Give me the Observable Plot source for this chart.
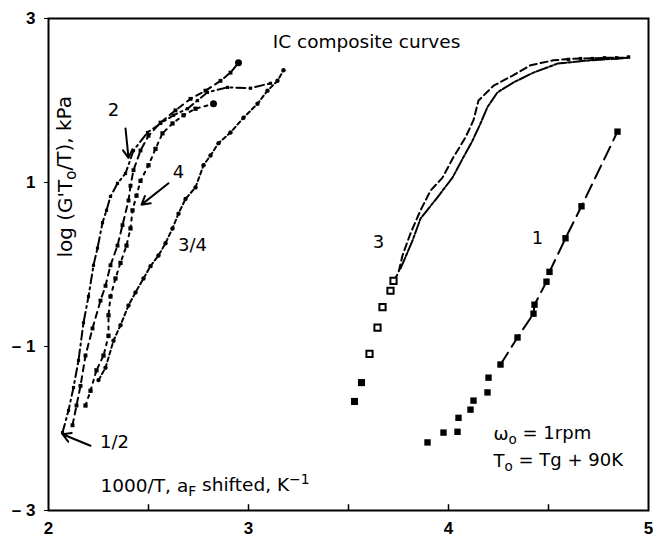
<!DOCTYPE html>
<html><head><meta charset="utf-8">
<script src="https://cdn.jsdelivr.net/npm/d3@7"></script>
<script src="https://cdn.jsdelivr.net/npm/@observablehq/plot@0.6"></script>
<style>body{margin:0;background:#fff}</style>
</head><body><div id="chart"></div>
<script>
const xTicks = [2, 3, 4, 5];
const xMinorTicks = [2.5, 3, 3.5, 4, 4.5];
const yTicks = [3, 1, -1, -3];

// left cluster
const curveHalf = [[2.07,-2.05],[2.10,-1.78],[2.125,-1.50],[2.15,-1.17],[2.175,-0.71],[2.20,-0.39],[2.225,-0.01],[2.245,0.20],[2.27,0.51],[2.29,0.66],[2.31,0.83],[2.345,0.99],[2.385,1.11],[2.425,1.39],[2.495,1.61],[2.56,1.72],[2.625,1.82],[2.695,1.90],[2.745,2.00],[2.795,2.10],[2.895,2.16],[3.01,2.15],[3.11,2.21]];
const curveTwo = [[2.12,-1.96],[2.14,-1.72],[2.16,-1.48],[2.185,-1.11],[2.22,-0.78],[2.26,-0.44],[2.285,-0.26],[2.31,-0.01],[2.345,0.23],[2.37,0.48],[2.40,0.78],[2.41,0.96],[2.425,1.15],[2.46,1.39],[2.50,1.57],[2.56,1.73],[2.635,1.88],[2.71,2.02],[2.785,2.12],[2.86,2.24],[2.91,2.34],[2.95,2.46]];
const curveFour = [[2.185,-1.72],[2.21,-1.54],[2.24,-1.29],[2.275,-1.11],[2.30,-0.87],[2.30,-0.62],[2.31,-0.39],[2.335,-0.17],[2.36,0.02],[2.39,0.23],[2.41,0.44],[2.42,0.66],[2.44,0.84],[2.46,1.02],[2.50,1.21],[2.535,1.41],[2.57,1.60],[2.62,1.72],[2.675,1.82],[2.735,1.90],[2.825,1.96]];
const curveThreeQ = [[2.25,-1.41],[2.285,-1.26],[2.325,-0.93],[2.36,-0.74],[2.40,-0.50],[2.435,-0.34],[2.475,-0.17],[2.51,-0.02],[2.55,0.11],[2.585,0.26],[2.62,0.44],[2.65,0.62],[2.685,0.80],[2.735,0.94],[2.775,1.21],[2.81,1.33],[2.85,1.48],[2.91,1.61],[2.975,1.79],[3.045,1.96],[3.095,2.12],[3.145,2.24],[3.175,2.37]];

// right S-curves
const curveThreeFilled = [[3.53,-1.67],[3.565,-1.44]];
const curveThreeOpen = [[3.605,-1.09],[3.645,-0.77],[3.67,-0.52],[3.71,-0.32],[3.725,-0.20]];
const curveThree = [[3.725,-0.20],[3.75,-0.10],[3.77,0.11],[3.81,0.38],[3.86,0.66],[3.91,0.90],[3.97,1.06],[4.025,1.31],[4.085,1.55],[4.125,1.76],[4.15,2.0],[4.225,2.18],[4.325,2.31],[4.41,2.43],[4.525,2.49],[4.625,2.51],[4.795,2.52],[4.895,2.52]];
const curveFive = [[3.76,-0.05],[3.82,0.29],[3.86,0.56],[3.945,0.82],[4.02,1.06],[4.075,1.31],[4.12,1.51],[4.16,1.72],[4.195,1.92],[4.245,2.10],[4.325,2.22],[4.425,2.34],[4.545,2.45],[4.71,2.49],[4.895,2.52]];
const topDots = [[4.60,2.50],[4.66,2.51],[4.72,2.51],[4.78,2.52],[4.84,2.52],[4.90,2.53]];

// curve 1
const curveOne = [[3.895,-2.17],[3.975,-2.05],[4.045,-2.04],[4.05,-1.87],[4.11,-1.77],[4.125,-1.66],[4.195,-1.56],[4.20,-1.38],[4.26,-1.22],[4.345,-0.89],[4.425,-0.60],[4.43,-0.49],[4.49,-0.21],[4.505,-0.09],[4.585,0.32],[4.665,0.71],[4.845,1.62]];
const curveOneLine = curveOne.slice(8);

const curveLabels = [
  {x:2.325, y:1.88, text:"2"},
  {x:2.65, y:1.12, text:"4"},
  {x:2.72, y:0.23, text:"3/4"},
  {x:2.33, y:-2.17, text:"1/2"},
  {x:3.65, y:0.27, text:"3"},
  {x:4.445, y:0.32, text:"1"}
];
const titleLabel = [{x:3.59, y:2.71, text:"IC composite curves"}];
const xLabel = [{x:2.26, y:-2.70, text:"1000/T, a_{F} shifted, K^{−1}"}];
const condLabels = [
  {x:4.225, y:-2.07, text:"ω_{o} = 1rpm"},
  {x:4.225, y:-2.40, text:"T_{o} = Tg + 90K"}
];
const yLabel = [{x:2.085, y:1.07, text:"log (G'T_{o}/T), kPa"}];
const arrows = [
  {x1:2.385, y1:1.66, x2:2.40, y2:1.30},
  {x1:2.60, y1:0.99, x2:2.465, y2:0.73},
  {x1:2.21, y1:-2.21, x2:2.07, y2:-2.07}
];

const X = d => d[0], Y = d => d[1];
const F = "'DejaVu Sans', 'Liberation Sans', sans-serif";
const chart = Plot.plot({
  width: 653, height: 542,
  marginLeft: 48, marginRight: 5, marginTop: 18, marginBottom: 32,
  x: {domain: [2, 5]},
  y: {domain: [-3, 3]},
  style: {fontFamily: "'Liberation Sans', Arial, sans-serif", color: "#000", background: "#fff"},
  marks: [
    Plot.frame({stroke: "#000", strokeWidth: 2}),
    Plot.axisX({ticks: xTicks, tickSize: 0, tickPadding: 11, tickFormat: d => String(d), fontSize: 17, fontWeight: "bold", label: null}),
    Plot.axisY({ticks: yTicks, tickSize: 4, tickPadding: 9, tickFormat: d => d < 0 ? "– " + (-d) : String(d), fontSize: 17, fontWeight: "bold", label: null}),
    Plot.ruleX(xMinorTicks, {y1: -3, y2: -2.93, stroke: "#000", strokeWidth: 1.5}),
    // left cluster
    Plot.line(curveHalf, {x: X, y: Y, stroke: "#000", strokeWidth: 2, strokeDasharray: "9,4,2,4"}),
    Plot.dot(curveHalf, {x: X, y: Y, symbol: "square", r: 1.8, fill: "#000"}),
    Plot.line(curveTwo, {x: X, y: Y, stroke: "#000", strokeWidth: 2, strokeDasharray: "6,5"}),
    Plot.dot(curveTwo, {x: X, y: Y, symbol: "square", r: 2.2, fill: "#000"}),
    Plot.line(curveFour, {x: X, y: Y, stroke: "#000", strokeWidth: 2, strokeDasharray: "3,5"}),
    Plot.dot(curveFour, {x: X, y: Y, symbol: "square", r: 2.4, fill: "#000"}),
    Plot.line(curveThreeQ, {x: X, y: Y, stroke: "#000", strokeWidth: 2, strokeDasharray: "4,3"}),
    Plot.dot(curveThreeQ, {x: X, y: Y, symbol: "circle", r: 2.2, fill: "#000"}),
    Plot.dot([curveTwo[curveTwo.length - 1]], {x: X, y: Y, r: 3.5, fill: "#000"}),
    Plot.dot([curveFour[curveFour.length - 1]], {x: X, y: Y, r: 3.5, fill: "#000"}),
    // right S curves
    Plot.line(curveThree, {x: X, y: Y, stroke: "#000", strokeWidth: 2, strokeDasharray: "7,4"}),
    Plot.line(curveFive, {x: X, y: Y, stroke: "#000", strokeWidth: 2, strokeDasharray: "12,2,3,2"}),
    Plot.dot(curveThreeFilled, {x: X, y: Y, symbol: "square", r: 4, fill: "#000"}),
    Plot.dot(curveThreeOpen, {x: X, y: Y, symbol: "square", r: 3.5, fill: "#fff", stroke: "#000", strokeWidth: 2}),
    Plot.dot(topDots, {x: X, y: Y, symbol: "square", r: 2, fill: "#000"}),
    // curve 1
    Plot.line(curveOneLine, {x: X, y: Y, stroke: "#000", strokeWidth: 2, strokeDasharray: "14,7"}),
    Plot.dot(curveOne, {x: X, y: Y, symbol: "square", r: 3.6, fill: "#000"}),
    // annotations
    Plot.arrow(arrows, {x1: "x1", y1: "y1", x2: "x2", y2: "y2", stroke: "#000", strokeWidth: 2, headLength: 7}),
    Plot.text(curveLabels, {x: "x", y: "y", text: "text", fontSize: 18, fontFamily: F, fill: "#000"}),
    Plot.text(titleLabel, {x: "x", y: "y", text: "text", fontSize: 18.5, fontFamily: F, fill: "#000"}),
    Plot.text(xLabel, {x: "x", y: "y", text: "text", fontSize: 18.5, fontFamily: F, textAnchor: "start", fill: "#000"}),
    Plot.text(condLabels, {x: "x", y: "y", text: "text", fontSize: 18, fontFamily: F, textAnchor: "start", fill: "#000"}),
    Plot.text(yLabel, {x: "x", y: "y", text: "text", rotate: -90, fontSize: 20, fontFamily: F, fill: "#000"})
  ]
});

// rich text: subscripts / superscripts
d3.select(chart).selectAll("text").each(function() {
  const t = this.textContent;
  if (!/[_^]\{/.test(t)) return;
  const parts = t.split(/([_^]\{[^}]*\})/).filter(p => p.length);
  this.textContent = "";
  let shift = 0;
  const sel = d3.select(this);
  for (const p of parts) {
    let txt = p, small = false, target = 0;
    if (p.startsWith("_{")) { txt = p.slice(2, -1); target = 0.28; small = true; }
    else if (p.startsWith("^{")) { txt = p.slice(2, -1); target = -0.45; small = true; }
    const dy = target - shift; shift = target;
    const ts = sel.append("tspan").attr("dy", dy + "em").text(txt);
    if (small) ts.attr("font-size", "0.75em");
  }
});
document.getElementById("chart").append(chart);
</script>
</body></html>
